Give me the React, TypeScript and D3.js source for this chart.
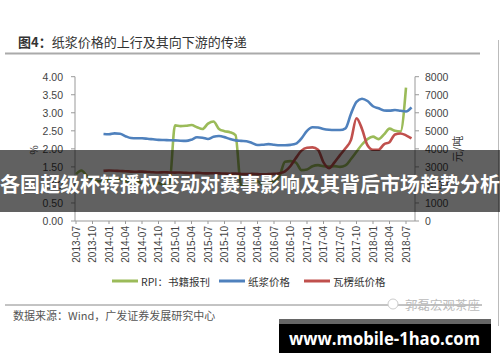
import React from 'react';
import * as d3 from 'd3';

const months: string[] = [
  '2013-07','2013-08','2013-09','2013-10','2013-11','2013-12',
  '2014-01','2014-02','2014-03','2014-04','2014-05','2014-06','2014-07','2014-08','2014-09','2014-10','2014-11','2014-12',
  '2015-01','2015-02','2015-03','2015-04','2015-05','2015-06','2015-07','2015-08','2015-09','2015-10','2015-11','2015-12',
  '2016-01','2016-02','2016-03','2016-04','2016-05','2016-06','2016-07','2016-08','2016-09','2016-10','2016-11','2016-12',
  '2017-01','2017-02','2017-03','2017-04','2017-05','2017-06','2017-07','2017-08','2017-09','2017-10','2017-11','2017-12',
  '2018-01','2018-02','2018-03','2018-04','2018-05','2018-06','2018-07','2018-08'
];

const tickMonths: string[] = [
  '2013-07','2013-10','2014-01','2014-04','2014-07','2014-10','2015-01','2015-04','2015-07','2015-10',
  '2016-01','2016-04','2016-07','2016-10','2017-01','2017-04','2017-07','2017-10','2018-01','2018-04','2018-07'
];

// RPI: 书籍报刊 (%), left axis
const rpiBooks: (number | null)[] = [
  1.30, 1.40, 1.25, 1.15, 1.10, 1.10, 1.15, 1.20, 1.15, 1.10, 1.05, 1.10, 1.05, 1.00, 1.00, 1.05, 1.00, 1.05,
  2.65, 2.63, 2.64, 2.66, 2.60, 2.55, 2.70, 2.76, 2.55, 2.49, 2.46, 2.38,
  1.00, 1.00, 1.05, 1.10, 1.00, 1.05, 1.10, 1.25, 1.64, 1.66, 1.62, 1.41,
  1.43, 1.52, 1.55, 1.52, 1.51, 1.52, 1.50, 1.54, 1.72, 1.92, 2.12, 2.27,
  2.34, 2.27, 2.40, 2.56, 2.50, 2.48, 3.70, null
];

// 纸浆价格 (元/吨), right axis
const pulpPrice: (number | null)[] = [
  null, null, null, null, null, 4823,
  4806, 4860, 4840, 4700, 4600, 4584, 4584, 4560, 4530, 4500, 4490, 4480,
  4470, 4450, 4440, 4510, 4640, 4620, 4550, 4670, 4710, 4650, 4540, 4470,
  4440, 4420, 4330, 4210, 4230, 4260, 4230, 4200, 4200, 4220, 4290, 4580,
  5000, 5200, 5180, 5100, 5060, 5046, 5046, 5140, 5950, 6610, 6780, 6650,
  6360, 6250, 6130, 6120, 6150, 6110, 6070, 6300
];

// 瓦楞纸价格 (元/吨), right axis
const corrugatedPrice: (number | null)[] = [
  null, null, null, null, null, 2780,
  2800, 2790, 2770, 2760, 2740, 2730, 2740, 2720, 2700, 2690, 2700, 2690,
  2680, 2690, 2670, 2660, 2670, 2650, 2640, 2650, 2640, 2630, 2620, 2630,
  2610, 2600, 2610, 2600, 2590, 2600, 2610, 2650, 2750, 3050, 3500, 3900,
  4060, 4080, 3950, 3250, 2930, 3250, 3650, 4030, 4500, 5700, 5100, 4200,
  3950, 3950, 4250, 4370, 4800, 4850, 4750, 4580
];

const leftTicks = [0, 0.5, 1, 1.5, 2, 2.5, 3, 3.5, 4];
const rightTicks = [0, 1000, 2000, 3000, 4000, 5000, 6000, 7000, 8000];

const legendItems = [
  { label: 'RPI：书籍报刊', color: '#9BBB59' },
  { label: '纸浆价格', color: '#4F81BD' },
  { label: '瓦楞纸价格', color: '#C0504D' },
];

const CJK = '"Noto Sans CJK SC", "Noto Sans", sans-serif';
const LAT = '"Liberation Sans", Arial, sans-serif';

export default function App() {
  const W = 500, H = 362;
  const xS = d3.scaleLinear().domain([0, months.length - 1]).range([76, 411.5]);
  const yL = d3.scaleLinear().domain([0, 4]).range([221, 76.7]);
  const yR = d3.scaleLinear().domain([0, 8000]).range([221, 76.7]);
  const axisLeftX = 75, axisRightX = 415, axisY = 221;

  const mk = (scale: d3.ScaleLinear<number, number>) =>
    d3.line<number | null>()
      .defined((d) => d != null)
      .x((_, i) => xS(i))
      .y((d) => scale(d as number))
      .curve(d3.curveMonotoneX);

  const greenPath = mk(yL)(rpiBooks) || '';
  const bluePath = mk(yR)(pulpPrice) || '';
  const redPath = mk(yR)(corrugatedPrice) || '';

  const legendX = [112, 219, 304];

  return (
    <svg width={W} height={H} style={{ position: 'absolute', left: 0, top: 0, background: '#fff' }}>
      <rect x={0} y={0} width={W} height={H} fill="#fff" />
      {/* title */}
      <text x={18} y={47} fontFamily={CJK} fontSize={13} fill="#333">
        <tspan fontWeight="bold">图4：</tspan>纸浆价格的上行及其向下游的传递
      </text>
      <line x1={5} x2={480} y1={53.5} y2={53.5} stroke="#aaa" strokeWidth={2} />
      <line x1={498.5} x2={498.5} y1={40} y2={326} stroke="#bbb" strokeWidth={1} />

      {/* axes */}
      <g stroke="#999" strokeWidth={1}>
        <line x1={axisLeftX} x2={axisLeftX} y1={yL(4)} y2={axisY} />
        <line x1={axisRightX} x2={axisRightX} y1={yR(8000)} y2={axisY} />
        <line x1={axisLeftX} x2={axisRightX} y1={axisY} y2={axisY} />
        {leftTicks.map((t) => (
          <line key={'lt' + t} x1={axisLeftX - 4} x2={axisLeftX} y1={yL(t)} y2={yL(t)} />
        ))}
        {rightTicks.map((t) => (
          <line key={'rt' + t} x1={axisRightX} x2={axisRightX + 4} y1={yR(t)} y2={yR(t)} />
        ))}
        {tickMonths.map((m) => {
          const x = xS(months.indexOf(m));
          return <line key={'xt' + m} x1={x} x2={x} y1={axisY} y2={axisY + 3} />;
        })}
      </g>
      <g fontFamily={LAT} fontSize={10.5} fill="#444">
        {leftTicks.map((t) => (
          <text key={'ll' + t} x={63} y={yL(t)} textAnchor="end" dominantBaseline="central">
            {d3.format('.2f')(t)}
          </text>
        ))}
        {rightTicks.map((t) => (
          <text key={'rl' + t} x={425} y={yR(t)} textAnchor="start" dominantBaseline="central">
            {t}
          </text>
        ))}
        {tickMonths.map((m) => {
          const x = xS(months.indexOf(m));
          return (
            <text key={'xl' + m} transform={`translate(${x},${axisY + 5}) rotate(-90)`} textAnchor="end"
              dominantBaseline="central" fontSize={10}>
              {m}
            </text>
          );
        })}
      </g>
      <text transform="translate(33,150) rotate(-90)" textAnchor="middle" dominantBaseline="central"
        fontFamily={CJK} fontSize={10} fill="#444">%</text>
      <text transform="translate(457,149) rotate(-90)" textAnchor="middle" dominantBaseline="central"
        fontFamily={CJK} fontSize={11} fill="#444">元/吨</text>

      {/* series */}
      <path d={greenPath} fill="none" stroke="#9BBB59" strokeWidth={2.6} strokeLinejoin="round" />
      <path d={bluePath} fill="none" stroke="#4F81BD" strokeWidth={2.6} strokeLinejoin="round" />
      <path d={redPath} fill="none" stroke="#C0504D" strokeWidth={2.6} strokeLinejoin="round" />

      {/* legend */}
      {legendItems.map((it, i) => (
        <g key={it.label}>
          <line x1={legendX[i]} x2={legendX[i] + 26} y1={281} y2={281} stroke={it.color} strokeWidth={3} />
          <text x={legendX[i] + 29} y={281} dominantBaseline="central" fontFamily={CJK} fontSize={10.5} fill="#333">
            {it.label}
          </text>
        </g>
      ))}

      {/* source */}
      <line x1={5} x2={482} y1={305} y2={305} stroke="#888" strokeWidth={1} />
      <text x={13} y={315} dominantBaseline="central" fontFamily={CJK} fontSize={11} fill="#555">
        数据来源：Wind，广发证券发展研究中心
      </text>
      <circle cx={393} cy={304} r={5} fill="#fff" stroke="#ccc" strokeWidth={1} />
      <text x={405} y={304} dominantBaseline="central" fontFamily={CJK} fontSize={12.5} fill="#bbb">
        郭磊宏观茶座
      </text>

      {/* overlay banner */}
      <rect x={0} y={150} width={W} height={62} fill="rgba(0,0,0,0.62)" />
      <text x={250} y={183} textAnchor="middle" dominantBaseline="central" fontFamily={CJK}
        fontWeight="bold" fontSize={20} fill="#fff">
        各国超级杯转播权变动对赛事影响及其背后市场趋势分析
      </text>

      {/* watermark box */}
      <rect x={279} y={319} width={212} height={5} fill="#666" />
      <rect x={279} y={324} width={212} height={29} fill="#000" />
      <text x={384.5} y={338} textAnchor="middle" dominantBaseline="central" fontFamily={'"Open Sans", sans-serif'}
        fontWeight="bold" fontSize={18} fill="#fff" textLength={191} lengthAdjust="spacingAndGlyphs">
        www.mobile-1hao.com
      </text>
    </svg>
  );
}
